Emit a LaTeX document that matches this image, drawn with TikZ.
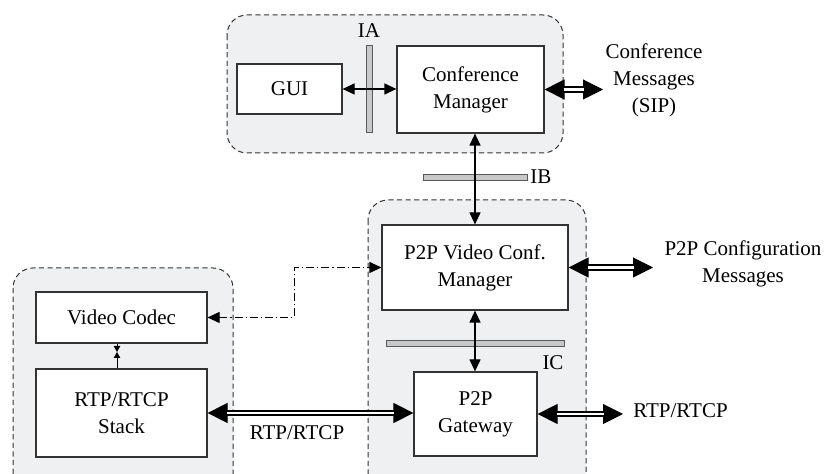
\documentclass[tikz,border=0pt]{standalone}
\usepackage{fontspec}
\setmainfont{Liberation Serif}
\usetikzlibrary{arrows.meta}
\definecolor{regfill}{RGB}{239,240,241}
\definecolor{barfill}{RGB}{200,200,200}
\definecolor{barline}{RGB}{90,90,90}
\tikzset{
  region/.style={draw=black!80, line width=0.5pt, dash pattern=on 2.6pt off 1.7pt, fill=regfill, rounded corners=10pt},
  box/.style={draw=black!80, line width=0.6pt, fill=white, align=center, inner sep=0pt, font=\fontsize{10.5}{13.5}\selectfont},
  bar/.style={draw=barline, line width=0.5pt, fill=barfill},
  lbl/.style={align=center, inner sep=0pt, font=\fontsize{10.5}{13.5}\selectfont},
  sarrow/.style={line width=0.6pt, {Triangle[length=6pt,width=5.5pt]}-{Triangle[length=6pt,width=5.5pt]}},
  tarrow/.style={line width=0.5pt, -{Triangle[length=3pt,width=3.2pt]}},
  dtips/.style={line width=0.5pt, {Triangle[length=10pt,width=10pt]}-{Triangle[length=10pt,width=10pt]}},
  dline/.style={line width=0.85pt, double distance=1.4pt, shorten <=9.5pt, shorten >=9.5pt},
  dd/.style={line width=0.5pt, dash pattern=on 4pt off 1.5pt on 0.6pt off 1.5pt, {Triangle[length=6pt,width=5.5pt]}-{Triangle[length=6pt,width=5.5pt]}},
}
\begin{document}
\begin{tikzpicture}[x=0.5pt,y=-0.5pt]
\useasboundingbox (0,0) rectangle (830,474);
\begin{scope}
\clip (0,0) rectangle (830,474);
% regions
\draw[region] (227,15) rectangle (563,153);
\draw[region] (368,200) rectangle (586,495);
\draw[region] (13,268) rectangle (233,495);
% bars
\draw[bar] (366,46) rectangle (372,133);
\draw[bar] (423,175) rectangle (527,181);
\draw[bar] (386,341) rectangle (564,347);
% boxes
\node[box, minimum width=52.5pt, minimum height=25pt] (gui) at (289.5,89) {GUI};
\node[box, minimum width=73.5pt, minimum height=43.5pt] (cm) at (470.5,89.5) {Conference\\Manager};
\node[box, minimum width=93pt, minimum height=42.5pt] (vcm) at (475,267.5) {P2P Video Conf.\\Manager};
\node[box, minimum width=61.5pt, minimum height=42pt] (gw) at (475.5,414) {P2P\\Gateway};
\node[box, minimum width=85.5pt, minimum height=25.5pt] (codec) at (121.5,317.5) {Video Codec};
\node[box, minimum width=85.5pt, minimum height=44pt] (stack) at (121.5,413) {RTP/RTCP\\Stack};
% labels
\node[lbl] (ia) at (369,31) {IA};
\node[lbl, anchor=west] (ib) at (530,177) {IB};
\node[lbl] (ic) at (553,363) {IC};
\node[lbl] (confmsg) at (654,80) {Conference\\Messages\\(SIP)};
\node[lbl] (p2pmsg) at (743,264) {P2P Configuration\\Messages};
\node[lbl, anchor=west] (rtpr) at (633,411) {RTP/RTCP};
\node[lbl] (rtpl) at (297,433) {RTP/RTCP};
% free ends
\coordinate (cmend) at (603,89.5);
\coordinate (vcmend) at (653,267.5);
\coordinate (gwend) at (623,414);
\coordinate (cs) at (117,352);
% connectors
\draw[sarrow] (gui.east) -- (gui.east -| cm.west);
\draw[sarrow] (vcm.north) -- (vcm.north |- cm.south);
\draw[sarrow] (vcm.south) -- (vcm.south |- gw.north);
\draw[dtips] (cm.east) -- (cmend);
\draw[dline] (cm.east) -- (cmend);
\draw[dtips] (vcm.east) -- (vcmend);
\draw[dline] (vcm.east) -- (vcmend);
\draw[dtips] (gw.east) -- (gwend);
\draw[dline] (gw.east) -- (gwend);
\draw[dtips] (stack.east) -- (stack.east -| gw.west);
\draw[dline] (stack.east) -- (stack.east -| gw.west);
\draw[tarrow] (codec.south -| cs) -- (cs);
\draw[tarrow] (stack.north -| cs) -- (cs);
\draw[dd] (codec.east) -- (294,317.5) |- (vcm.west);
\end{scope}
\end{tikzpicture}
\end{document}
